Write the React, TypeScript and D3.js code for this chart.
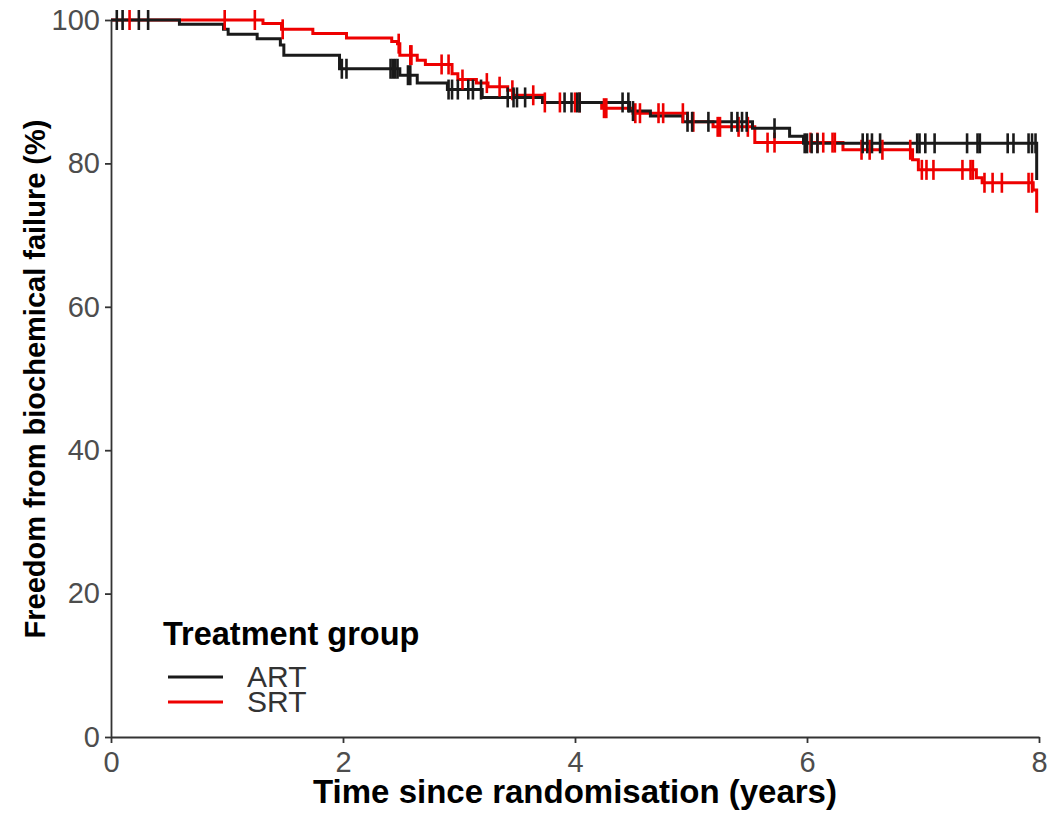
import React, { useEffect, useRef } from 'react';
import * as d3 from 'd3';

// Kaplan-Meier steps (time in years, survival in %)
const artTimes = [0, 0.59, 0.97, 1.01, 1.26, 1.46, 1.49, 1.97, 2.49, 2.64, 2.9, 3.2, 3.72, 4.47, 4.65, 4.93, 5.53, 5.85, 5.97, 7.98];
const artSurv = [100, 99.4, 98.7, 98.0, 97.4, 96.5, 95.1, 93.2, 92.3, 91.2, 90.3, 89.2, 88.5, 87.3, 86.6, 85.8, 84.9, 83.8, 82.8, 77.7];

const srtTimes = [0, 1.31, 1.47, 1.74, 2.03, 2.42, 2.47, 2.49, 2.64, 2.71, 2.94, 2.99, 3.15, 3.25, 3.42, 3.47, 3.72, 4.23, 4.5, 4.97, 5.19, 5.55, 6.31, 6.91, 6.96, 7.46, 7.51, 7.95, 7.98];
const srtSurv = [100, 99.5, 98.7, 98.1, 97.5, 97.0, 96.7, 95.1, 94.4, 93.8, 92.5, 91.7, 91.2, 90.7, 90.2, 89.5, 88.5, 87.7, 87.0, 85.8, 85.1, 82.9, 81.9, 80.5, 79.1, 78.0, 77.3, 76.3, 73.1];

// censoring times
const artCensor = [0.05, 0.1, 0.24, 0.32, 1.99, 2.03, 2.41, 2.43, 2.45, 2.47, 2.56, 2.58, 2.91, 2.94, 2.99, 3.08, 3.12, 3.19,
  3.42, 3.47, 3.5, 3.57, 3.91, 3.97, 4.02, 4.04, 4.41, 4.46, 4.5, 4.97, 5.01, 5.15, 5.35, 5.4, 5.44, 5.48, 5.72,
  5.98, 6.0, 6.04, 6.09, 6.48, 6.52, 6.56, 6.63, 6.95, 6.97, 7.02, 7.1, 7.38, 7.47, 7.49, 7.73, 7.78, 7.91, 7.94, 7.97];
const srtCensor = [0.16, 0.98, 1.24, 1.48, 2.48, 2.58, 2.59, 2.85, 2.91, 3.03, 3.24, 3.35, 3.46, 3.64, 3.74, 3.87, 4.0, 4.04,
  4.25, 4.27, 4.52, 4.56, 4.72, 4.76, 4.93, 5.02, 5.23, 5.25, 5.41, 5.49, 5.66, 5.72, 6.03, 6.09, 6.14, 6.22, 6.24,
  6.47, 6.54, 6.65, 6.89, 6.99, 7.03, 7.09, 7.34, 7.41, 7.43, 7.53, 7.6, 7.68, 7.91, 7.94];

const groups = ['ART', 'SRT'];
const groupColors = ['#1a1a1a', '#ee0000'];
const xTicks = [0, 2, 4, 6, 8];
const yTicks = [0, 20, 40, 60, 80, 100];

const FONT = '"Liberation Sans", Arial, sans-serif';

const App = () => {
  const svgRef = useRef<SVGSVGElement>(null);

  useEffect(() => {
    const svg = d3.select(svgRef.current);
    svg.selectAll('*').remove();

    const x = d3.scaleLinear().domain([0, 8]).range([111, 1039]);
    const y = d3.scaleLinear().domain([0, 100]).range([737, 20]);

    const series = [
      { name: 'SRT', times: srtTimes, surv: srtSurv, censor: srtCensor, color: groupColors[1] },
      { name: 'ART', times: artTimes, surv: artSurv, censor: artCensor, color: groupColors[0] },
    ];

    const survAt = (times: number[], surv: number[], t: number) => {
      let v = surv[0];
      for (let i = 0; i < times.length; i++) if (times[i] <= t) v = surv[i];
      return v;
    };

    const line = d3.line<[number, number]>()
      .x(d => x(d[0]))
      .y(d => y(d[1]))
      .curve(d3.curveStepAfter);

    // curves
    series.forEach(s => {
      svg.append('path')
        .attr('fill', 'none')
        .attr('stroke', s.color)
        .attr('stroke-width', 3)
        .attr('d', line(s.times.map((t, i) => [t, s.surv[i]] as [number, number])));
    });

    // censor marks
    series.forEach(s => {
      svg.append('g')
        .selectAll('line')
        .data(s.censor)
        .enter()
        .append('line')
        .attr('x1', d => x(d))
        .attr('x2', d => x(d))
        .attr('y1', d => y(survAt(s.times, s.surv, d)) - 10)
        .attr('y2', d => y(survAt(s.times, s.surv, d)) + 10)
        .attr('stroke', s.color)
        .attr('stroke-width', 2.6);
    });

    // axes
    const xAxis = svg.append('g')
      .attr('transform', 'translate(0,737)')
      .call(d3.axisBottom(x).tickValues(xTicks).tickSize(6).tickSizeOuter(0).tickPadding(8));
    const yAxis = svg.append('g')
      .attr('transform', 'translate(111,0)')
      .call(d3.axisLeft(y).tickValues(yTicks).tickSize(6).tickSizeOuter(0).tickPadding(5));

    [xAxis, yAxis].forEach(a => {
      a.select('.domain').attr('stroke', '#333').attr('stroke-width', 1.8);
      a.selectAll('.tick line').attr('stroke', '#333').attr('stroke-width', 1.8);
      a.selectAll('.tick text')
        .attr('fill', '#4d4d4d')
        .style('font-family', FONT)
        .style('font-size', '29px');
    });

    // axis titles
    svg.append('text')
      .attr('x', 575)
      .attr('y', 803)
      .attr('text-anchor', 'middle')
      .style('font-family', FONT)
      .style('font-size', '33px')
      .style('font-weight', 'bold')
      .attr('fill', '#000')
      .text('Time since randomisation (years)');

    svg.append('text')
      .attr('transform', 'translate(45,379) rotate(-90)')
      .attr('text-anchor', 'middle')
      .style('font-family', FONT)
      .style('font-size', '29px')
      .style('font-weight', 'bold')
      .attr('fill', '#000')
      .text('Freedom from biochemical failure (%)');

    // legend
    svg.append('text')
      .attr('x', 163)
      .attr('y', 645)
      .style('font-family', FONT)
      .style('font-size', '32.5px')
      .style('font-weight', 'bold')
      .attr('fill', '#000')
      .text('Treatment group');

    const legend = svg.selectAll('.legend')
      .data(groups)
      .enter()
      .append('g')
      .attr('class', 'legend')
      .attr('transform', (d, i) => `translate(0,${677 + i * 25})`);

    legend.append('line')
      .attr('x1', 168)
      .attr('x2', 223)
      .attr('stroke', (d, i) => groupColors[i])
      .attr('stroke-width', 3);

    legend.append('text')
      .attr('x', 247)
      .attr('y', 10)
      .style('font-family', FONT)
      .style('font-size', '30px')
      .attr('fill', '#333')
      .text(d => d);
  }, []);

  return (
    <svg
      ref={svgRef}
      width={1048}
      height={816}
      style={{ position: 'absolute', left: 0, top: 0, background: '#fff' }}
    />
  );
};

export default App;
